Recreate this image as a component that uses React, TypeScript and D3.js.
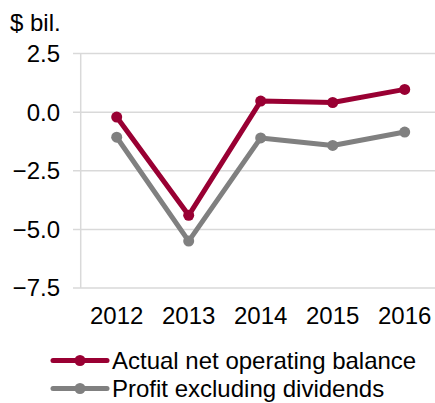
import React from "react";
import * as d3 from "d3";

const years = ["2012", "2013", "2014", "2015", "2016"];
const actualBalance = [-0.21, -4.4, 0.47, 0.41, 0.97];
const profitExDividends = [-1.07, -5.5, -1.1, -1.42, -0.85];
const yTicks = [2.5, 0.0, -2.5, -5.0, -7.5];
const seriesNames = ["Actual net operating balance", "Profit excluding dividends"];
const colors = ["#990033", "#808080"];

export default function App() {
  const W = 435, H = 403;
  const left = 80.7, right = 440.7, top = 53.5, bottom = 288;
  const x = d3.scaleBand<string>().domain(years).range([left, right]);
  const y = d3.scaleLinear().domain([-7.5, 2.5]).range([bottom, top]);
  const line = d3
    .line<number>()
    .x((_, i) => (x(years[i]) as number) + x.bandwidth() / 2)
    .y((d) => y(d));
  const font = "'Liberation Sans', Arial, sans-serif";
  const series = [actualBalance, profitExDividends];
  const fs = 24;
  return (
    <svg width={W} height={H} style={{ position: "absolute", left: 0, top: 0 }} fontFamily={font}>
      <text x={10} y={31} fontSize={fs} fill="#000">$ bil.</text>
      {yTicks.map((t) => (
        <g key={t}>
          <line x1={73} x2={W} y1={y(t)} y2={y(t)} stroke="#d9d9d9" strokeWidth={1.5} />
          <text x={60} y={y(t)} dy="0.35em" textAnchor="end" fontSize={fs} fill="#000">
            {d3.format(".1f")(t)}
          </text>
        </g>
      ))}
      <line x1={left} x2={left} y1={top} y2={bottom} stroke="#d9d9d9" strokeWidth={1.5} />
      {years.map((yr) => (
        <text key={yr} x={(x(yr) as number) + x.bandwidth() / 2} y={316} dy="0.35em" textAnchor="middle" fontSize={fs} fill="#000">
          {yr}
        </text>
      ))}
      {series.slice().reverse().map((s, ri) => {
        const i = series.length - 1 - ri;
        return (
          <g key={i}>
            <path d={line(s) || ""} fill="none" stroke={colors[i]} strokeWidth={5} strokeLinejoin="round" />
            {s.map((v, j) => (
              <circle key={j} cx={(x(years[j]) as number) + x.bandwidth() / 2} cy={y(v)} r={5.5} fill={colors[i]} />
            ))}
          </g>
        );
      })}
      {seriesNames.map((n, i) => {
        const ly = 360.5 + i * 28;
        return (
          <g key={n}>
            <line x1={53} x2={107} y1={ly} y2={ly} stroke={colors[i]} strokeWidth={5} strokeLinecap="round" />
            <circle cx={80} cy={ly} r={5.5} fill={colors[i]} />
            <text x={112} y={ly + 8} fontSize={fs} fill="#000">{n}</text>
          </g>
        );
      })}
    </svg>
  );
}
